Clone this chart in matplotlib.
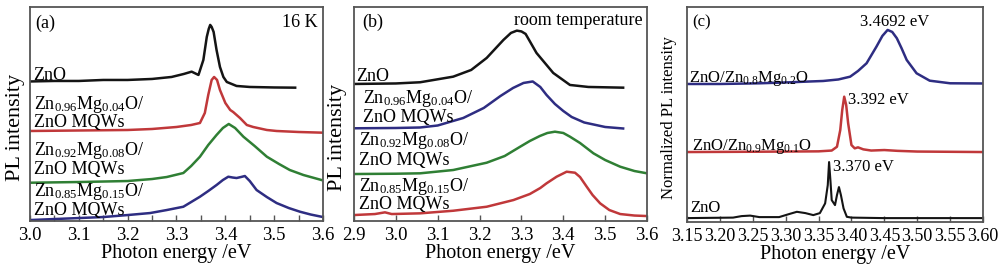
import matplotlib
matplotlib.use('Agg')
import matplotlib.pyplot as plt
from matplotlib.ticker import MultipleLocator

plt.rcParams['font.family'] = ['Liberation Serif', 'DejaVu Serif']
plt.rcParams['mathtext.fontset'] = 'custom'
plt.rcParams['mathtext.rm'] = 'Liberation Serif'
plt.rcParams['mathtext.it'] = 'Liberation Serif'
plt.rcParams['font.size'] = 13

# ---- panel (a): 16 K spectra (energy in eV, intensity in arbitrary units) ----
a_zno_e = [3.000, 3.05, 3.10, 3.15, 3.20, 3.25, 3.29, 3.315, 3.331, 3.345, 3.355, 3.362,
           3.366, 3.369, 3.372, 3.376, 3.382, 3.389, 3.396, 3.403, 3.423, 3.45, 3.50, 3.543]
a_zno_i = [139.5, 140, 140, 141, 141, 142, 144, 147, 149.3, 146, 161, 184,
           192, 196, 194, 189, 171, 154, 144, 139, 135, 134, 133.5, 133.3]
a_mg04_e = [3.00, 3.10, 3.20, 3.25, 3.30, 3.33, 3.348, 3.358, 3.365, 3.372, 3.377, 3.383,
            3.389, 3.40, 3.41, 3.416, 3.43, 3.444, 3.457, 3.485, 3.505, 3.55, 3.60]
a_mg04_i = [90, 90.5, 91, 92, 94, 96, 98, 108, 126, 141, 144, 141,
            131, 118, 111, 109, 103, 96, 94, 91, 90, 89, 88.3]
a_mg08_e = [3.00, 3.10, 3.20, 3.25, 3.28, 3.314, 3.33, 3.348, 3.365, 3.382, 3.395, 3.407,
            3.42, 3.437, 3.46, 3.485, 3.51, 3.532, 3.56, 3.597]
a_mg08_i = [38.3, 39, 40, 42, 44, 48, 55, 64.3, 76, 86, 93, 97,
            93, 84.3, 75, 64.3, 57, 51, 46, 41]
a_mg15_e = [3.00, 3.05, 3.10, 3.15, 3.20, 3.246, 3.28, 3.314, 3.33, 3.348, 3.365, 3.382,
            3.395, 3.406, 3.415, 3.423, 3.432, 3.440, 3.45, 3.464, 3.485, 3.505, 3.53,
            3.553, 3.575, 3.597]
a_mg15_i = [1, 2, 3, 4, 6, 8, 11, 14.3, 19, 24.3, 30, 36,
            41, 44.3, 43.5, 43, 44, 45, 40, 31, 24, 18, 13,
            9.3, 6.5, 4.3]

# ---- panel (b): room temperature spectra ----
b_zno_e = [2.90, 3.00, 3.058, 3.137, 3.18, 3.217, 3.257, 3.275, 3.289, 3.30, 3.31, 3.336,
           3.376, 3.416, 3.46, 3.543]
b_zno_i = [137, 137.5, 138.7, 144.3, 151, 163, 181, 188, 190.3, 189.5, 187, 168,
           148, 136, 134, 133.3]
b_mg04_e = [2.90, 3.00, 3.058, 3.10, 3.161, 3.21, 3.25, 3.28, 3.305, 3.327, 3.345,
            3.36, 3.38, 3.40, 3.42, 3.45, 3.50, 3.543]
b_mg04_i = [92.7, 93, 93.5, 95.5, 103, 113, 125, 133, 138, 139.5, 134,
            126, 117, 110, 104, 98.5, 94, 92.5]
b_mg08_e = [2.90, 3.00, 3.058, 3.137, 3.217, 3.26, 3.297, 3.32, 3.344, 3.362, 3.380,
            3.40, 3.416, 3.44, 3.472, 3.50, 3.536, 3.57, 3.60]
b_mg08_i = [47, 47.3, 47.7, 51, 58.3, 65, 74.3, 80, 85, 88, 89.3,
            88, 84.3, 78, 67.7, 61, 54.3, 50, 47.7]
b_mg15_e = [2.90, 2.95, 2.974, 2.99, 3.058, 3.137, 3.217, 3.281, 3.320, 3.345, 3.360,
            3.384, 3.408, 3.428, 3.44, 3.456, 3.47, 3.488, 3.51, 3.536, 3.57, 3.60]
b_mg15_i = [6, 7, 8.7, 7, 7.7, 10.3, 14.3, 21, 27, 33, 37.7,
            44.3, 49.3, 48.3, 44, 34.3, 26, 17.7, 11, 7, 5.5, 5]

# ---- panel (c): normalized PL ----
c_mg20_e = [3.15, 3.20, 3.261, 3.307, 3.337, 3.357, 3.38, 3.398, 3.41, 3.423, 3.438,
            3.447, 3.455, 3.462, 3.469, 3.476, 3.484, 3.499, 3.519, 3.55, 3.60]
c_mg20_i = [138, 138, 138.7, 139.7, 140.5, 141, 142.5, 145.3, 151, 158.7, 175.3,
            186, 192, 190, 183.7, 174, 162, 148.7, 141.3, 138.7, 138.5]
c_mg10_e = [3.15, 3.25, 3.30, 3.35, 3.37, 3.378, 3.383, 3.386, 3.389, 3.392, 3.395,
            3.400, 3.405, 3.410, 3.418, 3.43, 3.45, 3.47, 3.50, 3.60]
c_mg10_i = [70, 70.3, 70.5, 70.7, 71.5, 75.3, 92, 112, 125.3, 117, 98.7,
            77, 73.7, 74.7, 72.7, 71.5, 72, 71.2, 70.5, 70]
c_zno_e = [3.15, 3.22, 3.233, 3.246, 3.26, 3.29, 3.305, 3.317, 3.33, 3.342, 3.352,
           3.360, 3.364, 3.366, 3.368, 3.370, 3.375, 3.378, 3.381, 3.384, 3.388,
           3.393, 3.40, 3.45, 3.50, 3.60]
c_zno_i = [4, 4.5, 6, 6.5, 5, 5, 8, 10.3, 9, 7, 9,
           18.7, 37, 60, 42, 22, 17, 27, 35, 27, 13.7,
           5.3, 4.5, 4, 4, 4]

c_peak_labels = ['3.4692 eV', '3.392 eV', '3.370 eV']

BLACK = '#141414'
RED = '#c0383a'
GREEN = '#2f7f34'
BLUE = '#2e2d82'
FRAME = '#555555'


def style_axis(ax, xmin, xmax, major, minor, tsize):
    ax.set_xlim(xmin, xmax)
    ax.set_ylim(0, 214)
    ax.set_yticks([])
    ax.xaxis.set_major_locator(MultipleLocator(major))
    if minor:
        ax.xaxis.set_minor_locator(MultipleLocator(minor))
    ax.tick_params(axis='x', which='both', direction='in', length=4, width=1,
                   color=FRAME, pad=4, labelsize=tsize)
    for s in ax.spines.values():
        s.set_color(FRAME)
        s.set_linewidth(1.3)
    ax.set_xlabel('Photon energy /eV', labelpad=0, fontsize=14.5)


fig = plt.figure(figsize=(10, 2.66), dpi=100)

# (a)
ax1 = fig.add_axes([0.030, 0.169, 0.293, 0.805])
ax1.plot(a_zno_e, a_zno_i, color=BLACK, lw=1.8)
ax1.plot(a_mg04_e, a_mg04_i, color=RED, lw=1.8)
ax1.plot(a_mg08_e, a_mg08_i, color=GREEN, lw=1.8)
ax1.plot(a_mg15_e, a_mg15_i, color=BLUE, lw=1.8)
style_axis(ax1, 3.0, 3.6, 0.1, 0.05, 13.5)
ax1.xaxis.set_major_formatter(plt.FormatStrFormatter('%.1f'))
ax1.set_ylabel('PL intensity', fontsize=16)
ax1.yaxis.set_label_coords(-0.017, 0.435)
ax1.text(0.017, 0.925, '(a)', transform=ax1.transAxes, va='center')
ax1.text(0.98, 0.925, '16 K', transform=ax1.transAxes, va='center', ha='right')
ax1.text(0.01, 0.659, 'ZnO', transform=ax1.transAxes, va='baseline')
ax1.text(0.014, 0.525, r'Zn$_{0.96}$Mg$_{0.04}$O/', transform=ax1.transAxes, va='baseline')
ax1.text(0.014, 0.438, 'ZnO MQWs', transform=ax1.transAxes, va='baseline')
ax1.text(0.014, 0.31, r'Zn$_{0.92}$Mg$_{0.08}$O/', transform=ax1.transAxes, va='baseline')
ax1.text(0.014, 0.218, 'ZnO MQWs', transform=ax1.transAxes, va='baseline')
ax1.text(0.014, 0.118, r'Zn$_{0.85}$Mg$_{0.15}$O/', transform=ax1.transAxes, va='baseline')
ax1.text(0.014, 0.030, 'ZnO MQWs', transform=ax1.transAxes, va='baseline')

# (b)
ax2 = fig.add_axes([0.354, 0.169, 0.293, 0.805])
ax2.plot(b_zno_e, b_zno_i, color=BLACK, lw=1.8)
ax2.plot(b_mg04_e, b_mg04_i, color=BLUE, lw=1.8)
ax2.plot(b_mg08_e, b_mg08_i, color=GREEN, lw=1.8)
ax2.plot(b_mg15_e, b_mg15_i, color=RED, lw=1.8)
style_axis(ax2, 2.9, 3.6, 0.1, None, 13.5)
ax2.xaxis.set_major_formatter(plt.FormatStrFormatter('%.1f'))
ax2.set_ylabel('PL intensity', fontsize=16)
ax2.yaxis.set_label_coords(-0.024, 0.39)
ax2.text(0.027, 0.93, '(b)', transform=ax2.transAxes, va='center')
ax2.text(0.986, 0.935, 'room temperature', transform=ax2.transAxes, va='center', ha='right')
ax2.text(0.007, 0.654, 'ZnO', transform=ax2.transAxes, va='baseline')
ax2.text(0.031, 0.55, r'Zn$_{0.96}$Mg$_{0.04}$O/', transform=ax2.transAxes, va='baseline')
ax2.text(0.031, 0.462, 'ZnO MQWs', transform=ax2.transAxes, va='baseline')
ax2.text(0.017, 0.355, r'Zn$_{0.92}$Mg$_{0.08}$O/', transform=ax2.transAxes, va='baseline')
ax2.text(0.017, 0.262, 'ZnO MQWs', transform=ax2.transAxes, va='baseline')
ax2.text(0.017, 0.142, r'Zn$_{0.85}$Mg$_{0.15}$O/', transform=ax2.transAxes, va='baseline')
ax2.text(0.017, 0.055, 'ZnO MQWs', transform=ax2.transAxes, va='baseline')

# (c)
ax3 = fig.add_axes([0.687, 0.165, 0.296, 0.809])
ax3.plot(c_mg20_e, c_mg20_i, color=BLUE, lw=1.8)
ax3.plot(c_mg10_e, c_mg10_i, color=RED, lw=1.8)
ax3.plot(c_zno_e, c_zno_i, color=BLACK, lw=1.5)
style_axis(ax3, 3.15, 3.6, 0.05, None, 13)
ax3.set_ylim(0, 215)
ax3.xaxis.set_major_formatter(plt.FormatStrFormatter('%.2f'))
ax3.set_ylabel('Normalized PL intensity', fontsize=12)
ax3.yaxis.set_label_coords(-0.034, 0.488)
ax3.text(0.017, 0.93, '(c)', transform=ax3.transAxes, va='center', fontsize=12)
ax3.text(0.703, 0.93, c_peak_labels[0], transform=ax3.transAxes, va='center', ha='center',
         fontsize=12)
ax3.text(0.007, 0.651, r'ZnO/Zn$_{0.8}$Mg$_{0.2}$O', transform=ax3.transAxes, va='baseline',
         fontsize=12)
ax3.text(0.544, 0.567, c_peak_labels[1], transform=ax3.transAxes, va='center', fontsize=12)
ax3.text(0.017, 0.335, r'ZnO/Zn$_{0.9}$Mg$_{0.1}$O', transform=ax3.transAxes, va='baseline',
         fontsize=12)
ax3.text(0.493, 0.256, c_peak_labels[2], transform=ax3.transAxes, va='center', fontsize=12)
ax3.text(0.01, 0.045, 'ZnO', transform=ax3.transAxes, va='baseline', fontsize=12)

fig.savefig('out.png', dpi=100)
